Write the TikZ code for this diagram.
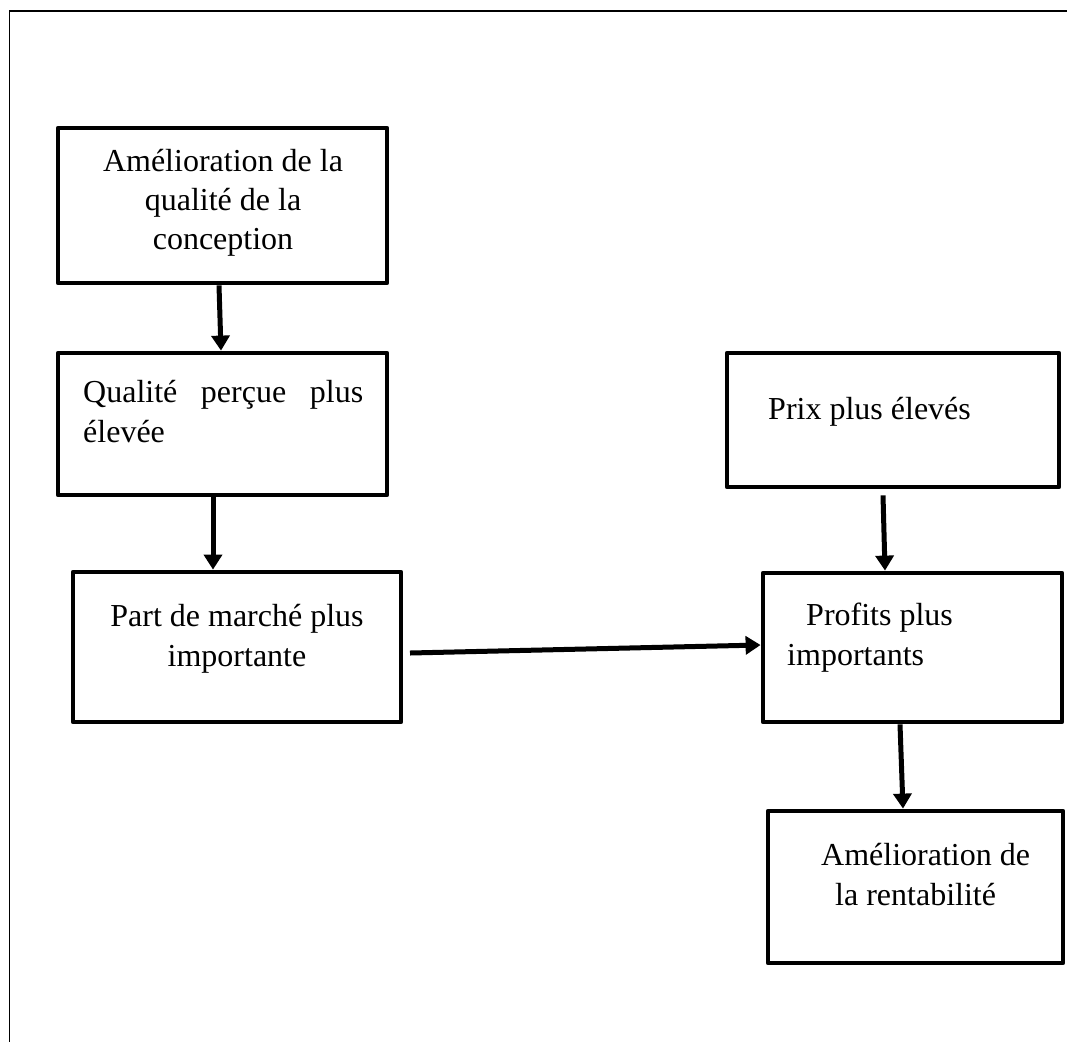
\documentclass[tikz,border=0pt]{standalone}
\usepackage{fontspec}
\setmainfont{Liberation Serif}
\usetikzlibrary{arrows.meta}
\begin{document}
\begin{tikzpicture}[x=1pt,y=-1pt,
  box/.style={draw,line width=4.8pt,line join=round,inner sep=0pt},
  txt/.style={inner sep=0pt,font=\fontsize{32}{40}\selectfont},
  lbl/.style={txt,anchor=base west},
  cl/.style={txt,anchor=base},
  arr/.style={line width=5pt,-{Triangle[length=15pt,width=18pt]}}]
\useasboundingbox (0,0) rectangle (1067,1042);
% frame
\draw[line width=1.6pt] (1067,11) -- (9.5,11) -- (9.5,1042);
% boxes
\node[box,minimum width=329pt,minimum height=155pt] (b1) at (222.5,205.5) {};
\node[box,minimum width=329pt,minimum height=142pt] (b2) at (222.5,424) {};
\node[box,minimum width=328pt,minimum height=150pt] (b3) at (237,647) {};
\node[box,minimum width=332pt,minimum height=134pt] (b4) at (893,420) {};
\node[box,minimum width=299pt,minimum height=149pt] (b5) at (912.5,647.5) {};
\node[box,minimum width=295pt,minimum height=152pt] (b6) at (915.5,887) {};
% texts
\node[cl] (t1a) at (223,171) {Amélioration de la};
\node[cl] (t1b) at (223,210) {qualité de la};
\node[cl] (t1c) at (223,249) {conception};
\node[lbl] (t2a) at (83,402) {\hbox to 280pt{Qualité\hfill perçue\hfill plus}};
\node[lbl] (t2b) at (83,442) {élevée};
\node[cl] (t3a) at (237,626) {Part de marché plus};
\node[cl] (t3b) at (237,666) {importante};
\node[lbl] (t4a) at (768,419) {Prix plus élevés};
\node[lbl] (t5a) at (806,625) {Profits plus};
\node[lbl] (t5b) at (787,665) {importants};
\node[lbl] (t6a) at (821,865) {Amélioration de};
\node[lbl] (t6b) at (835,905) {la rentabilité};
% connectors
\coordinate (tail3) at (410,653);
\draw[arr] ([xshift=-3.5pt]b1.south) -- ([xshift=-1.5pt]b2.north);
\draw[arr] ([xshift=-9.5pt]b2.south) -- ([xshift=-24pt]b3.north);
\draw[arr] (tail3) -- ([yshift=2.5pt]b5.west);
\draw[arr] ([xshift=-10pt,yshift=-6pt]b4.south) -- ([xshift=-27.5pt]b5.north);
\draw[arr] ([xshift=-12.5pt]b5.south) -- ([xshift=-12.5pt]b6.north);
\end{tikzpicture}
\end{document}
